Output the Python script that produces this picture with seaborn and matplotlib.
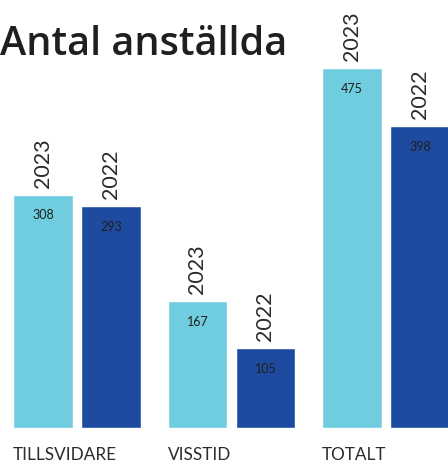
import matplotlib
matplotlib.use("Agg")
import matplotlib.pyplot as plt
import seaborn as sns
import pandas as pd

# data
kategorier = ["TILLSVIDARE", "VISSTID", "TOTALT"]
ar_2023 = [308, 167, 475]
ar_2022 = [293, 105, 398]
ar = ["2023", "2022"]
farger = ["#70CDE0", "#1E4BA0"]

df = pd.DataFrame({
    "kategori": kategorier * 2,
    "år": [ar[0]] * 3 + [ar[1]] * 3,
    "antal": ar_2023 + ar_2022,
})

sns.set_theme(style="white")
plt.rcParams["font.family"] = ["Lato", "DejaVu Sans"]

fig = plt.figure(figsize=(4.48, 4.63), dpi=100)
ax = fig.add_axes([0, 35 / 463, 1, 428 / 463])

sns.barplot(data=df, x="kategori", y="antal", hue="år", hue_order=ar,
            palette=farger, width=0.88, gap=0.118, saturation=1,
            legend=False, ax=ax)

ax.set_xlim(-0.498, 2.401)
ax.set_ylim(0, 428 / 0.758)
ax.set_axis_off()

for cont, etikett in zip(ax.containers, ar):
    for bar in cont:
        xc = bar.get_x() + bar.get_width() / 2
        h = bar.get_height()
        # årtal ovanför stapeln
        ax.annotate(etikett, (xc, h), xytext=(0, 5), textcoords="offset points",
                    rotation=90, ha="center", va="bottom", fontsize=15.5,
                    color="#2b2b2b", annotation_clip=False)
        # värde inne i stapeln
        ax.annotate(f"{h:.0f}", (xc, h), xytext=(0, -15), textcoords="offset points",
                    ha="center", va="center", fontsize=9, color="#1f1f1f")

# kategorinamn under första stapeln i varje grupp
for bar, namn in zip(ax.containers[0], kategorier):
    ax.annotate(namn, (bar.get_x(), 0), xytext=(0, -19.5), textcoords="offset points",
                ha="left", va="center", fontsize=12.3, color="#2b2b2b",
                annotation_clip=False)

fig.text(0.0, 1 - 55 / 463, "Antal anställda", ha="left", va="baseline",
         fontsize=28.5, fontweight="semibold", color="#1f1f1f",
         family=["Open Sans", "DejaVu Sans"])

fig.savefig("out.png", dpi=100)
